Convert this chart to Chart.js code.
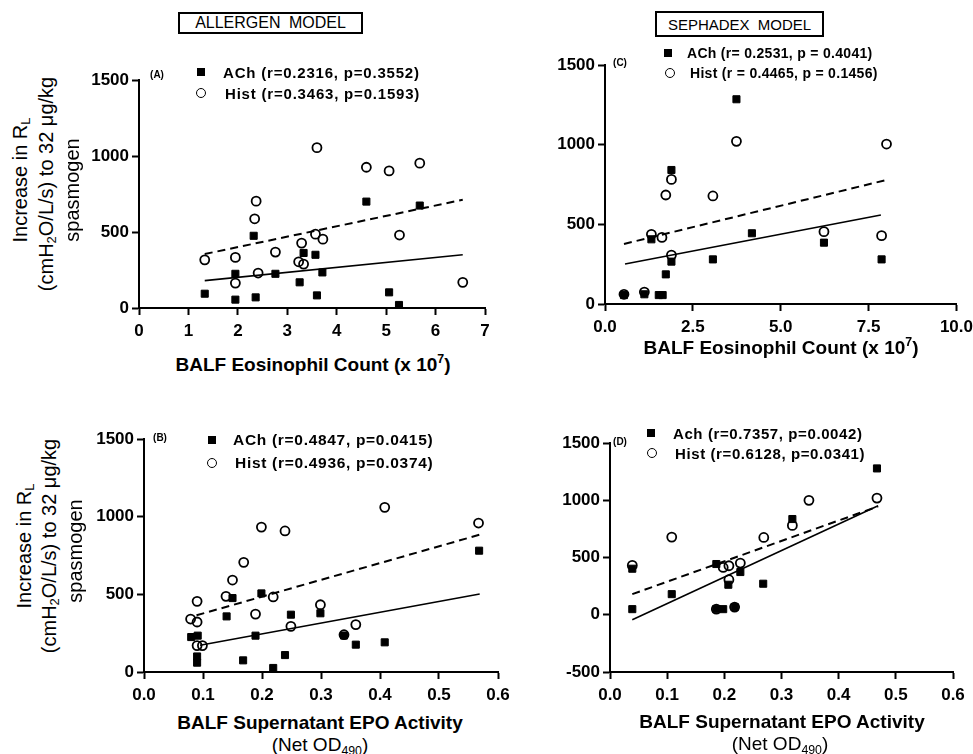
<!DOCTYPE html>
<html>
<head>
<meta charset="utf-8">
<script src="https://cdn.jsdelivr.net/npm/chart.js@4.4.1/dist/chart.umd.min.js"></script>
<style>
  body { margin: 0; width: 973px; height: 754px; overflow: hidden; background: #fff; position: relative;
         font-family: "Liberation Sans", Arial, Helvetica, sans-serif; color: #000; }
  .lbl { position: absolute; white-space: nowrap; line-height: 1; }
  .sub { font-size: 0.65em; vertical-align: -0.3em; }
  .sup { font-size: 0.65em; vertical-align: 0.6em; }
</style>
</head>
<body>
<script>
// panel A - allergen model, eosinophil count
let achA_x = [1.33, 1.95, 1.95, 2.32, 2.36, 2.76, 3.25, 3.33, 3.57, 3.60, 3.71, 4.60, 5.06, 5.26, 5.68];
let achA_y = [94, 225, 55, 475, 70, 225, 169, 362, 350, 83, 234, 700, 103, 20, 674];
let histA_x = [1.33, 1.95, 1.95, 2.34, 2.37, 2.41, 2.76, 3.23, 3.29, 3.33, 3.57, 3.60, 3.72, 4.60, 5.06, 5.27, 5.68, 6.55];
let histA_y = [317, 333, 164, 587, 703, 230, 368, 304, 427, 289, 486, 1055, 453, 926, 902, 480, 953, 169];
let fitA_ach_x = [1.33, 6.55], fitA_ach_y = [180, 350];
let fitA_hist_x = [1.33, 6.55], fitA_hist_y = [355, 712];

// panel C - sephadex model, eosinophil count
let achC_x = [0.54, 1.12, 1.32, 1.53, 1.64, 1.73, 1.89, 1.89, 3.07, 3.74, 4.18, 6.23, 7.87];
let achC_y = [56, 61, 406, 56, 56, 186, 266, 841, 280, 1285, 444, 385, 280];
let histC_x = [0.54, 1.12, 1.32, 1.62, 1.73, 1.89, 1.89, 3.07, 3.74, 6.23, 7.87, 8.01];
let histC_y = [61, 75, 437, 418, 684, 782, 307, 678, 1021, 454, 429, 1004];
let fitC_ach_x = [0.57, 7.85], fitC_ach_y = [251, 559];
let fitC_hist_x = [0.54, 8.0], fitC_hist_y = [377, 778];

// panel B - allergen model, EPO activity
let achB_x = [0.080, 0.091, 0.090, 0.090, 0.140, 0.150, 0.168, 0.189, 0.199, 0.219, 0.239, 0.249, 0.299, 0.339, 0.359, 0.408, 0.568];
let achB_y = [225, 234, 100, 60, 358, 476, 75, 234, 506, 26, 109, 369, 378, 235, 176, 191, 781];
let histB_x = [0.079, 0.090, 0.090, 0.090, 0.099, 0.139, 0.150, 0.169, 0.189, 0.199, 0.219, 0.239, 0.249, 0.299, 0.339, 0.359, 0.408, 0.567];
let histB_y = [341, 455, 322, 170, 170, 487, 592, 706, 373, 933, 483, 908, 294, 433, 240, 305, 1060, 959];
let fitB_ach_x = [0.095, 0.569], fitB_ach_y = [172, 502];
let fitB_hist_x = [0.089, 0.569], fitB_hist_y = [365, 884];

// panel D - sephadex model, EPO activity
let achD_x = [0.039, 0.039, 0.108, 0.186, 0.186, 0.198, 0.207, 0.218, 0.228, 0.268, 0.319, 0.467];
let achD_y = [402, 49, 180, 443, 49, 49, 262, 67, 373, 271, 836, 1278];
let histD_x = [0.039, 0.108, 0.186, 0.198, 0.208, 0.208, 0.218, 0.228, 0.269, 0.319, 0.348, 0.467];
let histD_y = [431, 678, 49, 413, 428, 306, 67, 451, 675, 780, 999, 1019];
let fitD_ach_x = [0.039, 0.469], fitD_ach_y = [-44, 952];
let fitD_hist_x = [0.039, 0.469], fitD_hist_y = [180, 946];

const FONT = '"Liberation Sans", Arial, Helvetica, sans-serif';
const YW = 70, XH = 40, PT = 20, PR = 22;

const pts = (xs, ys) => xs.map((x, i) => ({ x: x, y: ys[i] }));

const achSet = (xs, ys) => ({
  data: pts(xs, ys), pointStyle: "rect", pointRadius: 5,
  pointBackgroundColor: "#000", pointBorderColor: "#000", pointBorderWidth: 1,
});
const histSet = (xs, ys) => ({
  data: pts(xs, ys), pointStyle: "circle", pointRadius: 4.5,
  pointBackgroundColor: "rgba(0,0,0,0)", pointBorderColor: "#000", pointBorderWidth: 1.8,
});
const fitSet = (xs, ys, dashed) => ({
  data: pts(xs, ys), showLine: true, pointRadius: 0, borderColor: "#000",
  borderWidth: dashed ? 2 : 1.6, borderDash: dashed ? [8, 5] : [],
});

const axis = (min, max, step, fmt, isX) => ({
  type: "linear", min: min, max: max,
  afterFit: (s) => { if (isX) s.height = XH; else s.width = YW; },
  border: { display: true, color: "#000", width: 2 },
  grid: { drawOnChartArea: false, drawTicks: true, tickLength: 7, tickWidth: 2, color: "#000", tickColor: "#000" },
  ticks: {
    stepSize: step, color: "#000", padding: isX ? 6 : 3, maxRotation: 0, autoSkip: false,
    font: { family: FONT, size: 17, weight: "bold" },
    callback: fmt,
  },
});

// area = [left, right, top, bottom] of the plot box on the page
const makeChart = (area, xr, yr, xFmt, sets) => {
  let left = area[0] - YW, top = area[2] - PT;
  let w = area[1] + PR - left, h = area[3] + XH - top;
  let wrap = document.createElement("div");
  wrap.style.position = "absolute";
  wrap.style.left = left + "px";
  wrap.style.top = top + "px";
  wrap.style.width = w + "px";
  wrap.style.height = h + "px";
  let canvas = document.createElement("canvas");
  canvas.width = w;
  canvas.height = h;
  canvas.style.width = w + "px";
  canvas.style.height = h + "px";
  wrap.appendChild(canvas);
  document.body.appendChild(wrap);
  new Chart(canvas, {
    type: "scatter",
    data: { datasets: sets },
    options: {
      responsive: false, animation: false, devicePixelRatio: 1,
      layout: { padding: { top: PT, right: PR, left: 0, bottom: 0 } },
      plugins: { legend: { display: false }, tooltip: { enabled: false } },
      scales: {
        x: axis(xr[0], xr[1], xr[2], xFmt, true),
        y: axis(yr[0], yr[1], yr[2], (v) => v, false),
      },
    },
  });
};

const addText = (html, x, y, font, mode, spacing) => {
  let d = document.createElement("div");
  d.className = "lbl";
  d.innerHTML = html;
  d.style.font = font;
  if (spacing) d.style.letterSpacing = spacing + "px";
  d.style.left = x + "px";
  d.style.top = y + "px";
  if (mode === "rot") d.style.transform = "translate(-50%, -50%) rotate(-90deg)";
  else if (mode === "left") d.style.transform = "translate(0, -50%)";
  else d.style.transform = "translate(-50%, -50%)";
  document.body.appendChild(d);
  return d;
};

const addMarker = (x, y, kind) => {
  let m = document.createElement("div");
  m.style.position = "absolute";
  m.style.boxSizing = "border-box";
  if (kind === "sq") {
    m.style.width = "8px"; m.style.height = "8px";
    m.style.left = (x - 4) + "px"; m.style.top = (y - 4) + "px";
    m.style.background = "#000";
  } else {
    m.style.width = "10px"; m.style.height = "10px";
    m.style.left = (x - 5) + "px"; m.style.top = (y - 5) + "px";
    m.style.border = "1.8px solid #000";
    m.style.borderRadius = "50%";
  }
  document.body.appendChild(m);
};

const addBox = (text, l, t, w, h, size) => {
  let b = document.createElement("div");
  b.className = "lbl";
  b.textContent = text;
  b.style.left = l + "px";
  b.style.top = t + "px";
  b.style.width = w + "px";
  b.style.height = h + "px";
  b.style.boxSizing = "border-box";
  b.style.border = "2px solid #000";
  b.style.font = size + "px " + FONT;
  b.style.wordSpacing = "4px";
  b.style.display = "flex";
  b.style.alignItems = "center";
  b.style.justifyContent = "center";
  document.body.appendChild(b);
};

const fmt1 = (v) => v.toFixed(1);

makeChart([139, 485, 80, 308], [0, 7, 1], [0, 1500, 500], (v) => v, [
  achSet(achA_x, achA_y), histSet(histA_x, histA_y),
  fitSet(fitA_ach_x, fitA_ach_y, false), fitSet(fitA_hist_x, fitA_hist_y, true),
]);
makeChart([605, 957, 65, 304], [0, 10, 2.5], [0, 1500, 500], fmt1, [
  achSet(achC_x, achC_y), histSet(histC_x, histC_y),
  fitSet(fitC_ach_x, fitC_ach_y, false), fitSet(fitC_hist_x, fitC_hist_y, true),
]);
makeChart([144, 498, 439, 672], [0, 0.6, 0.1], [0, 1500, 500], fmt1, [
  achSet(achB_x, achB_y), histSet(histB_x, histB_y),
  fitSet(fitB_ach_x, fitB_ach_y, false), fitSet(fitB_hist_x, fitB_hist_y, true),
]);
makeChart([610, 953, 443, 672], [0, 0.6, 0.1], [-500, 1500, 500], fmt1, [
  achSet(achD_x, achD_y), histSet(histD_x, histD_y),
  fitSet(fitD_ach_x, fitD_ach_y, false), fitSet(fitD_hist_x, fitD_hist_y, true),
]);

// titles
addBox("ALLERGEN MODEL", 178, 12, 185, 22, 16);
addBox("SEPHADEX MODEL", 655, 11, 169, 26, 15);

// y axis titles
const yt = "20px " + FONT;
const yLines = ["Increase in R<span class='sub'>L</span>",
  "(cmH<span class='sub'>2</span>O/L/s) to 32 μg/kg", "spasmogen"];
addText(yLines[0], 21, 180, yt, "rot");
addText(yLines[1], 47, 184, yt, "rot");
addText(yLines[2], 72, 190, yt, "rot");
addText(yLines[0], 25, 546, yt, "rot");
addText(yLines[1], 50, 546, yt, "rot");
addText(yLines[2], 75, 551, yt, "rot");

// x axis titles
const xt = "bold 19px " + FONT;
addText("BALF Eosinophil Count (x 10<span class='sup'>7</span>)", 313, 364, xt);
addText("BALF Eosinophil Count (x 10<span class='sup'>7</span>)", 781, 347, xt);
addText("BALF Supernatant EPO Activity", 320, 723, xt);
addText("(Net OD<span class='sub'>490</span>)", 320, 746, "19px " + FONT);
addText("BALF Supernatant EPO Activity", 782, 722, xt);
addText("(Net OD<span class='sub'>490</span>)", 780, 745, "19px " + FONT);

// panel letters
const pl = "bold 10px " + FONT;
addText("(A)", 157, 74, pl);
addText("(C)", 620, 62, pl);
addText("(B)", 160, 437, pl);
addText("(D)", 620, 441, pl);

// legends
addMarker(201, 72, "sq");
addText("ACh (r=0.2316, p=0.3552)", 223, 72, "bold 15px " + FONT, "left", 0.8);
addMarker(201, 93, "ci");
addText("Hist (r=0.3463, p=0.1593)", 225, 93, "bold 15px " + FONT, "left", 0.8);

addMarker(668, 53, "sq");
addText("ACh (r= 0.2531, p = 0.4041)", 687, 53, "bold 14px " + FONT, "left", 0.3);
addMarker(670, 73, "ci");
addText("Hist (r = 0.4465, p = 0.1456)", 690, 73, "bold 14px " + FONT, "left", 0.3);

addMarker(212, 440, "sq");
addText("ACh (r=0.4847, p=0.0415)", 233, 440, "bold 15.5px " + FONT, "left", 0.7);
addMarker(212, 463, "ci");
addText("Hist (r=0.4936, p=0.0374)", 235, 463, "bold 15.5px " + FONT, "left", 0.7);

addMarker(651, 433, "sq");
addText("Ach (r=0.7357, p=0.0042)", 673, 433, "bold 15px " + FONT, "left", 0.6);
addMarker(652, 453, "ci");
addText("Hist (r=0.6128, p=0.0341)", 675, 453, "bold 15px " + FONT, "left", 0.6);
</script>
</body>
</html>
